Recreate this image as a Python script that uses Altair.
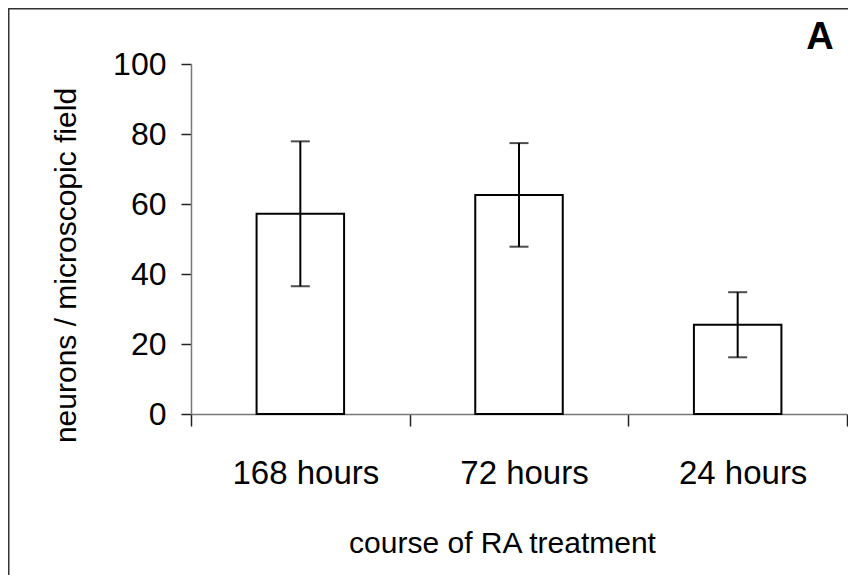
import altair as alt
import pandas as pd

categories = ["168 hours", "72 hours", "24 hours"]
means = [57.2, 62.6, 25.5]
errors = [20.7, 14.8, 9.3]

df = pd.DataFrame({
    "course": categories,
    "mean": means,
    "lo": [m - e for m, e in zip(means, errors)],
    "hi": [m + e for m, e in zip(means, errors)],
})

FONT = "Liberation Sans"

xscale = alt.Scale(domain=categories, paddingInner=0, paddingOuter=0)
yscale = alt.Scale(domain=[0, 100], nice=False)

x_enc = alt.X(
    "course:N", scale=xscale, sort=categories,
    axis=alt.Axis(
        title="course of RA treatment", labelAngle=0, tickBand="extent",
        tickSize=12, labelPadding=31, labelFontSize=33, labelFont=FONT,
        labelColor="black", labelOffset=5, titleFontSize=30, titleFont=FONT,
        titleFontWeight="normal", titleColor="black", titleX=311, titleY=129,
        titleBaseline="middle", domainColor="#777", domainWidth=1.5,
        tickColor="#222", tickWidth=1.5,
    ),
)

bars = alt.Chart(df).mark_bar(
    fill="white", stroke="black", strokeWidth=2, width=87.5
).encode(
    x=x_enc,
    y=alt.Y(
        "mean:Q", scale=yscale,
        axis=alt.Axis(
            title="neurons / microscopic field", values=[0, 20, 40, 60, 80, 100],
            tickSize=10, labelPadding=15, labelFontSize=32, labelFont=FONT,
            labelColor="black", grid=False, titleFontSize=30, titleFont=FONT,
            titleFontWeight="normal", titleColor="black", titleX=-125, titleY=201,
            titleBaseline="middle", domainColor="#777", domainWidth=1.5,
            tickColor="#222", tickWidth=1.5,
        ),
    ),
)

rules = alt.Chart(df).mark_rule(color="black", strokeWidth=2).encode(
    x=alt.X("course:N", scale=xscale, sort=categories),
    y=alt.Y("lo:Q", scale=yscale),
    y2="hi:Q",
)

caps_hi = alt.Chart(df).mark_tick(color="black", size=19, thickness=2).encode(
    x=alt.X("course:N", scale=xscale, sort=categories),
    y=alt.Y("hi:Q", scale=yscale),
)
caps_lo = alt.Chart(df).mark_tick(color="black", size=19, thickness=2).encode(
    x=alt.X("course:N", scale=xscale, sort=categories),
    y=alt.Y("lo:Q", scale=yscale),
)

panel = pd.DataFrame({"label": ["A"]})
letter = alt.Chart(panel).mark_text(
    font=FONT, fontSize=38, fontWeight="bold", color="black",
    align="center", baseline="middle",
).encode(x=alt.value(629), y=alt.value(-26), text="label:N")

frame_left = alt.Chart(panel).mark_rule(color="#333", strokeWidth=1.5).encode(
    x=alt.value(-182.25), y=alt.value(-56), y2=alt.value(600)
)
frame_top = alt.Chart(panel).mark_rule(color="#333", strokeWidth=1.5).encode(
    y=alt.value(-55.25), x=alt.value(-183), x2=alt.value(700)
)

chart = alt.layer(frame_left, frame_top, bars, rules, caps_hi, caps_lo, letter).properties(
    width=656, height=350,
    autosize=alt.AutoSizeParams(type="none"),
    padding={"left": 183, "top": 56, "right": 1, "bottom": 161},
    background="transparent",
).configure_view(stroke=None)

chart.save("out.html", embed_options={"renderer": "svg", "actions": False})
